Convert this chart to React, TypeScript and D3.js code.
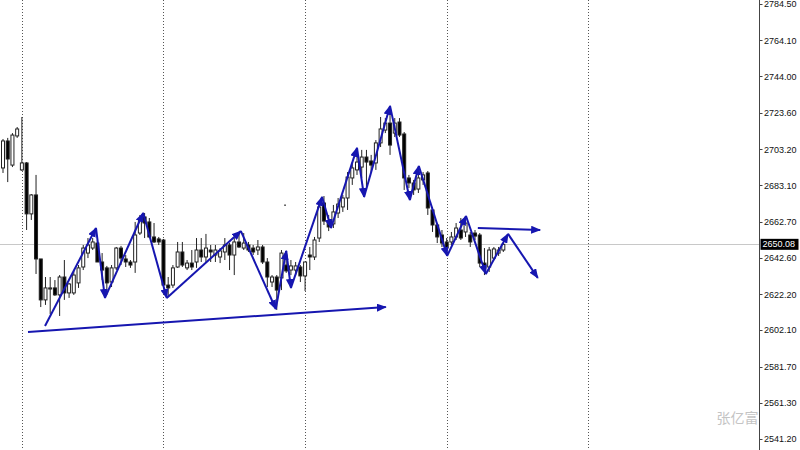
import React from 'react';
import * as d3 from 'd3';

// OHLC bars, oldest first
const opens = [
  2692.8, 2707.9, 2694.4, 2710.7, 2691.7, 2695.6, 2667.1, 2677.7, 2641.9, 2619.0,
  2625.1, 2625.7, 2621.8, 2631.8, 2622.9, 2622.9, 2628.5, 2637.4, 2645.2, 2648.0,
  2650.8, 2640.2, 2636.9, 2629.0, 2636.9, 2648.0, 2641.9, 2640.2, 2640.2, 2656.4,
  2665.4, 2662.6, 2654.2, 2653.1, 2652.5, 2627.3, 2627.3, 2637.4, 2645.8, 2636.9,
  2639.6, 2640.2, 2646.9, 2643.0, 2646.9, 2644.1, 2643.0, 2645.8, 2649.7, 2644.1,
  2651.4, 2648.0, 2649.7, 2648.0, 2646.9, 2648.6, 2640.2, 2629.0, 2631.8, 2631.3,
  2638.5, 2635.7, 2635.7, 2637.4, 2632.4, 2644.1, 2643.0, 2653.6, 2673.2, 2663.1,
  2661.5, 2667.6, 2671.0, 2676.0, 2687.2, 2691.7, 2693.3, 2698.9, 2696.7, 2695.6,
  2706.8, 2714.0, 2717.9, 2712.3, 2718.5, 2711.8, 2687.2, 2684.4, 2681.0, 2686.1,
  2690.0, 2669.3, 2660.9, 2655.3, 2651.4, 2651.4, 2654.2, 2658.1, 2657.0, 2655.3,
  2656.4, 2655.3, 2639.6, 2637.4, 2642.4, 2645.2, 2646.9,
];
const highs = [
  2709.0, 2709.6, 2712.3, 2715.7, 2721.3, 2696.1, 2678.2, 2688.9, 2641.9, 2631.8,
  2631.8, 2630.1, 2632.9, 2641.3, 2628.5, 2635.7, 2638.5, 2649.7, 2653.6, 2653.6,
  2652.5, 2645.2, 2638.0, 2638.5, 2648.6, 2649.2, 2644.1, 2641.3, 2662.6, 2666.5,
  2667.6, 2664.8, 2662.0, 2654.2, 2653.1, 2631.8, 2638.5, 2651.4, 2651.4, 2641.3,
  2646.9, 2653.6, 2653.6, 2655.9, 2649.7, 2649.7, 2648.0, 2653.6, 2650.8, 2653.6,
  2656.4, 2656.4, 2651.4, 2649.7, 2652.5, 2649.7, 2642.4, 2632.9, 2632.9, 2646.9,
  2645.2, 2641.3, 2640.2, 2638.5, 2640.2, 2648.6, 2654.2, 2672.1, 2677.1, 2666.5,
  2672.1, 2676.0, 2677.7, 2690.5, 2696.1, 2703.4, 2702.9, 2702.9, 2700.1, 2708.4,
  2721.3, 2720.7, 2724.1, 2720.7, 2720.7, 2712.9, 2688.9, 2686.1, 2691.7, 2690.5,
  2691.1, 2671.0, 2662.0, 2658.1, 2653.6, 2657.0, 2662.0, 2664.8, 2664.8, 2657.0,
  2658.1, 2656.4, 2648.0, 2648.6, 2648.6, 2648.6, 2650.8,
];
const lows = [
  2690.0, 2684.9, 2693.3, 2709.6, 2691.1, 2658.1, 2663.7, 2633.5, 2615.0, 2616.2,
  2611.1, 2621.2, 2610.0, 2619.0, 2620.1, 2621.8, 2625.7, 2635.7, 2642.4, 2646.9,
  2640.2, 2630.1, 2621.8, 2626.2, 2635.7, 2638.5, 2637.4, 2636.9, 2634.1, 2655.3,
  2653.6, 2653.6, 2650.8, 2649.7, 2626.2, 2620.6, 2625.7, 2636.9, 2637.4, 2635.7,
  2635.7, 2636.9, 2640.2, 2639.6, 2640.2, 2640.2, 2639.6, 2641.3, 2635.7, 2632.9,
  2648.0, 2646.9, 2645.8, 2644.1, 2644.1, 2639.1, 2626.2, 2626.2, 2613.4, 2624.5,
  2634.1, 2632.9, 2632.9, 2629.0, 2624.0, 2635.7, 2641.3, 2651.4, 2660.9, 2657.5,
  2659.2, 2664.8, 2668.2, 2669.3, 2683.3, 2688.9, 2687.2, 2680.5, 2690.5, 2691.7,
  2704.5, 2712.3, 2700.1, 2710.1, 2710.1, 2680.5, 2681.6, 2677.7, 2678.8, 2683.3,
  2666.5, 2657.0, 2650.8, 2648.6, 2645.2, 2649.7, 2652.5, 2652.5, 2654.2, 2648.6,
  2652.5, 2637.4, 2632.9, 2634.6, 2641.3, 2643.6, 2645.8,
];
const closes = [
  2707.9, 2697.8, 2711.2, 2714.6, 2695.6, 2667.1, 2677.7, 2641.9, 2619.0, 2625.7,
  2625.7, 2621.8, 2631.8, 2622.9, 2627.9, 2632.9, 2636.9, 2648.0, 2649.7, 2651.4,
  2640.2, 2635.7, 2628.5, 2636.9, 2648.0, 2642.4, 2640.2, 2638.5, 2655.3, 2663.7,
  2662.0, 2654.2, 2651.4, 2651.4, 2627.3, 2625.7, 2636.9, 2645.8, 2638.5, 2639.6,
  2637.4, 2646.9, 2643.0, 2648.0, 2645.8, 2646.9, 2646.4, 2649.7, 2644.1, 2651.4,
  2648.6, 2650.8, 2646.9, 2645.8, 2648.6, 2640.2, 2631.8, 2631.8, 2624.5, 2645.2,
  2635.2, 2638.0, 2638.0, 2632.4, 2640.2, 2643.0, 2652.5, 2671.0, 2663.1, 2659.8,
  2668.2, 2672.6, 2676.0, 2687.7, 2692.8, 2696.1, 2698.9, 2696.1, 2694.4, 2706.8,
  2714.6, 2717.9, 2705.6, 2717.9, 2711.2, 2687.2, 2684.4, 2680.5, 2687.2, 2688.9,
  2670.4, 2660.9, 2654.2, 2650.8, 2648.0, 2654.2, 2659.2, 2653.6, 2662.0, 2651.4,
  2654.7, 2639.6, 2636.9, 2646.9, 2647.5, 2646.9, 2650.08,
];

// Price scale labels on the right
const priceTicks = [
  2784.5, 2764.1, 2744.0, 2723.6, 2703.2, 2683.1, 2662.7,
  2642.6, 2622.2, 2602.1, 2581.7, 2561.3, 2541.2,
];

// Bars where a new session starts
const sessionBars = [4, 34, 64, 94, 124];

// Hand-drawn wave path (bar position, price); each leg ends in an arrow
const waveBars = [8.9, 19.7, 21.6, 29.7, 34.7, 50.4, 57.8, 60.0, 61.0, 67.6, 69.5, 75.0, 76.5, 82.0, 86.2, 88.1, 94.1, 98.1, 102.3, 107.0, 113.3];
const wavePrices = [2604.4, 2659.2, 2620.1, 2667.6, 2620.1, 2657.5, 2613.9, 2646.4, 2625.7, 2676.6, 2659.2, 2704.0, 2676.6, 2727.5, 2674.9, 2693.9, 2643.6, 2665.9, 2633.5, 2655.9, 2631.3];

// Rising support line
const supportBars = [5.3, 81.1];
const supportPrices = [2601.1, 2615.0];

// Sideways projection arrow
const flatBars = [100.6, 113.8];
const flatPrices = [2659.2, 2658.1];

// Small point object
const dotBars = [59.7];
const dotPrices = [2672.1];

const watermark = '张亿富';

const W = 800;
const H = 450;
const AXIS_X = 759.5;
const BLUE = '#1616b0';

export default function App() {
  const x = d3.scaleLinear().domain([0, 160]).range([3, 758.2]);
  const y = d3.scaleLinear().domain([2541.2, 2784.5]).range([439, 4]);
  const fmt = d3.format('.2f');
  const last = closes[closes.length - 1];

  const legs: { x1: number; y1: number; x2: number; y2: number }[] = [];
  for (let k = 1; k < waveBars.length; k++) {
    legs.push({
      x1: x(waveBars[k - 1]),
      y1: y(wavePrices[k - 1]),
      x2: x(waveBars[k]),
      y2: y(wavePrices[k]),
    });
  }
  legs.push({ x1: x(supportBars[0]), y1: y(supportPrices[0]), x2: x(supportBars[1]), y2: y(supportPrices[1]) });
  legs.push({ x1: x(flatBars[0]), y1: y(flatPrices[0]), x2: x(flatBars[1]), y2: y(flatPrices[1]) });

  const labelFont = '"Liberation Sans", Arial, sans-serif';

  return (
    <svg
      width={W}
      height={H}
      style={{ position: 'absolute', left: 0, top: 0, display: 'block' }}
    >
      <defs>
        <marker
          id="head"
          markerUnits="userSpaceOnUse"
          viewBox="0 0 10 8"
          markerWidth={10}
          markerHeight={8}
          refX={9}
          refY={4}
          orient="auto"
        >
          <path d="M0,0 L10,4 L0,8 Z" fill={BLUE} />
        </marker>
      </defs>
      <rect x={0} y={0} width={W} height={H} fill="#ffffff" />

      {/* session separators */}
      {sessionBars.map((b) => (
        <line
          key={'s' + b}
          x1={Math.round(x(b)) + 0.5}
          x2={Math.round(x(b)) + 0.5}
          y1={0}
          y2={H}
          stroke="#555"
          strokeWidth={1}
          strokeDasharray="1,2"
        />
      ))}

      {/* last price line */}
      <line
        x1={0}
        x2={AXIS_X}
        y1={Math.round(y(last)) + 0.5}
        y2={Math.round(y(last)) + 0.5}
        stroke="#c8c8c8"
        strokeWidth={1}
      />

      {/* candles */}
      {opens.map((o, i) => {
        const c = closes[i];
        const cx = x(i);
        const up = c >= o;
        const top = y(Math.max(o, c));
        const bot = y(Math.min(o, c));
        return (
          <g key={'c' + i}>
            <line x1={cx} x2={cx} y1={y(highs[i])} y2={y(lows[i])} stroke="#222" strokeWidth={1} />
            <rect
              x={cx - 1.5}
              y={top}
              width={3}
              height={Math.max(bot - top, 1)}
              fill={up ? '#ffffff' : '#000000'}
              stroke="#222"
              strokeWidth={1}
            />
          </g>
        );
      })}

      {dotBars.map((b, i) => (
        <rect key={'d' + i} x={x(b) - 0.5} y={y(dotPrices[i]) - 0.5} width={1.5} height={1.5} fill="#333" />
      ))}

      {/* drawn arrows */}
      {legs.map((l, i) => (
        <line
          key={'l' + i}
          x1={l.x1}
          y1={l.y1}
          x2={l.x2}
          y2={l.y2}
          stroke={BLUE}
          strokeWidth={2}
          markerEnd="url(#head)"
        />
      ))}

      {/* price axis */}
      <rect x={AXIS_X + 0.5} y={0} width={W - AXIS_X} height={H} fill="#ffffff" />
      <line x1={AXIS_X} x2={AXIS_X} y1={0} y2={H} stroke="#444" strokeWidth={1} />
      {priceTicks.map((p) => (
        <g key={'t' + p}>
          <line x1={AXIS_X} x2={AXIS_X + 3} y1={Math.round(y(p)) + 0.5} y2={Math.round(y(p)) + 0.5} stroke="#444" />
          <text
            x={AXIS_X + 4.5}
            y={y(p) + 1}
            fontFamily={labelFont}
            fontSize={9}
            fill="#111"
            dominantBaseline="middle"
          >
            {fmt(p)}
          </text>
        </g>
      ))}

      {/* current price tag */}
      <rect x={AXIS_X + 1} y={y(last) - 5.5} width={38} height={11} fill="#000" />
      <text
        x={AXIS_X + 3}
        y={y(last) + 0.5}
        fontFamily={labelFont}
        fontSize={9}
        fill="#fff"
        dominantBaseline="middle"
      >
        {fmt(last)}
      </text>

      <text
        x={AXIS_X - 1}
        y={423}
        textAnchor="end"
        fontFamily='"Noto Sans CJK SC", sans-serif'
        fontSize={14}
        fill="#c4c4c4"
      >
        {watermark}
      </text>
    </svg>
  );
}
